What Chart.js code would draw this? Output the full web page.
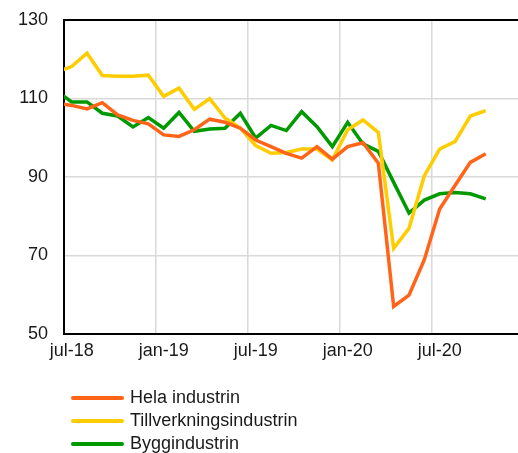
<!DOCTYPE html>
<html>
<head>
<meta charset="utf-8">
<script src="https://cdn.jsdelivr.net/npm/chart.js@4"></script>
<style>
  html,body{margin:0;padding:0;background:#fff;overflow:hidden;}
  #wrap{position:relative;width:530px;height:453px;}
  #myChart{position:absolute;left:0;top:-7px;}
  #legend{position:absolute;left:71px;top:386px;font-family:"Liberation Sans",Arial,sans-serif;font-size:18px;color:#1a1a1a;}
  .item{display:flex;align-items:center;height:23px;}
  .swatch{width:53px;height:4px;margin-right:6px;border-radius:2px;}
</style>
</head>
<body>
<div id="wrap">
  <canvas id="myChart" width="530" height="460"></canvas>
  <div id="legend"></div>
</div>
<script>
// months from jun-18 (index -1) to okt-20 (index 27)
let months=["jun-18","jul-18","aug-18","sep-18","okt-18","nov-18","dec-18",
  "jan-19","feb-19","mar-19","apr-19","maj-19","jun-19","jul-19","aug-19","sep-19","okt-19","nov-19","dec-19",
  "jan-20","feb-20","mar-20","apr-20","maj-20","jun-20","jul-20","aug-20","sep-20","okt-20"];
let helaIndustrin=[108.8,108.2,107.3,108.9,105.8,104.4,103.5,100.7,100.3,102.0,104.7,103.9,102.4,99.4,97.7,96.0,94.8,97.7,94.5,97.7,98.7,93.5,57.0,59.9,68.9,81.8,87.8,93.7,95.9];
let tillverkning=[116.7,118.1,121.5,115.8,115.6,115.6,115.9,110.5,112.6,107.2,109.9,105.0,102.4,98.0,96.0,96.2,97.1,97.1,94.3,102.0,104.5,101.3,71.8,76.9,90.3,97.1,99.0,105.5,106.9];
let bygg=[111.9,109.1,109.1,106.2,105.5,102.7,105.1,102.4,106.4,101.6,102.2,102.4,106.2,99.9,103.1,101.8,106.6,102.8,97.7,103.9,98.4,96.5,88.6,80.8,84.1,85.7,86.0,85.7,84.4];
let tickLabels=["jul-18","jan-19","jul-19","jan-20","jul-20",""];
let yTicks=[50,70,90,110,130];

// month index, jul-18 = 0
function toPoints(arr){
  return arr.map((v,i)=>({x:i-1,y:v}));
}

let datasets=[
  {label:"Hela industrin",data:toPoints(helaIndustrin),borderColor:"#FF6418"},
  {label:"Tillverkningsindustrin",data:toPoints(tillverkning),borderColor:"#FFCC00"},
  {label:"Byggindustrin",data:toPoints(bygg),borderColor:"#009A00"}
].map(d=>Object.assign(d,{borderWidth:3.5,pointRadius:0,tension:0,fill:false}));

let fontSpec={family:"'Liberation Sans', Arial, sans-serif",size:18};

new Chart("myChart",{
  type:"line",
  data:{datasets:datasets},
  options:{
    responsive:false,
    animation:false,
    layout:{padding:{top:4,right:4,bottom:89,left:0}},
    plugins:{legend:{display:false},tooltip:{enabled:false}},
    scales:{
      x:{
        type:"linear",
        min:-0.5,
        max:29.5,
        afterBuildTicks:(scale)=>{
          scale.ticks=tickLabels.map((t,i)=>({value:-0.5+6*i}));
        },
        afterFit:(scale)=>{scale.height=30;},
        grid:{color:"#d9d9d9",lineWidth:1.5,drawTicks:false},
        border:{color:"#000",width:2},
        ticks:{
          autoSkip:false,maxRotation:0,padding:6,color:"#1a1a1a",font:fontSpec,
          labelOffset:7.7,
          callback:(v,i)=>tickLabels[i]
        }
      },
      y:{
        min:50,
        max:130,
        afterBuildTicks:(scale)=>{
          scale.ticks=yTicks.map(v=>({value:v}));
        },
        afterFit:(scale)=>{scale.width=64;},
        grid:{
          color:(ctx)=>ctx.tick && ctx.tick.value===130 ? "#000" : "#d9d9d9",
          lineWidth:(ctx)=>ctx.tick && ctx.tick.value===130 ? 2 : 1.5,
          drawTicks:false
        },
        border:{color:"#000",width:2},
        ticks:{padding:16,color:"#1a1a1a",font:fontSpec}
      }
    }
  }
});

// legend
let legend=document.getElementById("legend");
datasets.forEach(d=>{
  let item=document.createElement("div");
  item.className="item";
  item.innerHTML='<span class="swatch" style="background:'+d.borderColor+'"></span>'+d.label;
  legend.appendChild(item);
});
</script>
</body>
</html>
